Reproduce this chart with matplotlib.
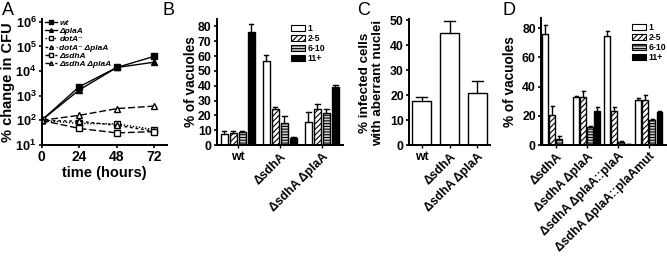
import numpy as np
import matplotlib
matplotlib.use("Agg")
import matplotlib.pyplot as plt
from matplotlib.patches import Patch

plt.rcParams['font.family'] = ['Liberation Sans', 'DejaVu Sans']
plt.rcParams['font.weight'] = 'bold'
plt.rcParams['mathtext.fontset'] = 'custom'
plt.rcParams['mathtext.bf'] = 'Liberation Sans:bold'
plt.rcParams['mathtext.rm'] = 'Liberation Sans:bold'
plt.rcParams['hatch.linewidth'] = 0.8

# ---------------- data ----------------
# Panel A
time_h = [0, 24, 48, 72]
a_labels = ['wt', '\u0394plaA', 'dotA\u207b', 'dotA\u207b \u0394plaA', '\u0394sdhA', '\u0394sdhA \u0394plaA']
a_wt = [100, 2300, 14000, 40000]
a_plaA = [100, 1700, 14000, 23000]
a_dotA = [100, 75, 72, 42]
a_dotA_plaA = [100, 92, 63, 36]
a_sdhA = [100, 47, 31, 35]
a_sdhA_plaA = [100, 160, 300, 380]

# Panel B
b_groups = ['wt', '\u0394sdhA', '\u0394sdhA \u0394plaA']
size_cats = ['1', '2-5', '6-10', '11+']
b_vals = [[7.4, 7.9, 8.8, 76.3],
          [57.0, 24.3, 14.6, 5.0],
          [15.8, 24.3, 21.4, 39.4]]
b_err = [[2.3, 1.8, 0.9, 5.4],
         [3.8, 1.6, 5.0, 0.6],
         [6.7, 3.2, 3.1, 0.9]]

# Panel C
c_groups = ['wt', '\u0394sdhA', '\u0394sdhA \u0394plaA']
c_vals = [17.6, 45.0, 20.9]
c_err = [1.5, 4.6, 4.6]

# Panel D
d_groups = ['\u0394sdhA', '\u0394sdhA \u0394plaA', '\u0394sdhA \u0394plaA::plaA', '\u0394sdhA \u0394plaA::plaAmut']
d_vals = [[76.0, 20.3, 4.0, 0.0],
          [33.0, 33.0, 12.0, 23.0],
          [75.0, 23.0, 2.0, 0.7],
          [31.0, 31.0, 16.8, 22.3]]
d_err = [[6.0, 6.7, 2.2, 0.0],
         [0.9, 4.0, 1.2, 2.8],
         [3.2, 3.2, 0.8, 0.3],
         [1.0, 3.3, 1.3, 1.0]]

# ---------------- figure ----------------
W, H = 667, 256
fig = plt.figure(figsize=(W / 100, H / 100), dpi=100)


def px_axes(left, right, top, bottom):
    return fig.add_axes([left / W, 1 - bottom / H, (right - left) / W, (bottom - top) / H])


def style(ax):
    for s in ['top', 'right']:
        ax.spines[s].set_visible(False)
    for s in ['left', 'bottom']:
        ax.spines[s].set_linewidth(1.4)
    ax.tick_params(axis='both', width=1.2, length=2.5, labelsize=8.8, pad=1.2)


# ---- Panel A ----
axA = px_axes(41.5, 167, 19, 145)
style(axA)
axA.set_yscale('log')
lw = 1.0
ms = 4.5
axA.plot(time_h, a_wt, '-', color='black', lw=lw, marker='s', ms=ms, mfc='black', label=a_labels[0])
axA.plot(time_h, a_plaA, '-', color='black', lw=lw, marker='^', ms=ms, mfc='black', label=a_labels[1])
axA.plot(time_h, a_dotA, color='black', lw=lw, ls=(0, (1, 1.2)), marker='s', ms=ms, mfc='white', label=a_labels[2])
axA.plot(time_h, a_dotA_plaA, color='black', lw=lw, ls=(0, (2, 2)), marker='^', ms=ms, mfc='white', label=a_labels[3])
axA.plot(time_h, a_sdhA, color='black', lw=lw, ls=(0, (5, 2)), marker='s', ms=ms, mfc='white', label=a_labels[4])
axA.plot(time_h, a_sdhA_plaA, color='black', lw=lw, ls=(0, (5, 2)), marker='^', ms=ms, mfc='white', label=a_labels[5])
axA.set_ylim(10, 1.3e6)
axA.set_xlim(0, 80)
axA.set_xticks(time_h)
axA.set_yticks([10, 100, 1e3, 1e4, 1e5, 1e6])
axA.set_yticklabels([r'$\mathbf{10^{%d}}$' % k for k in range(1, 7)])
axA.minorticks_off()
axA.tick_params(axis='y', labelsize=9.2, pad=1)
axA.tick_params(axis='x', labelsize=10)
axA.set_xlabel('time (hours)', fontsize=10.5, fontweight='bold', labelpad=1)
axA.set_ylabel('% change in CFU', fontsize=10.5, fontweight='bold')
axA.yaxis.set_label_coords(-0.215, 0.5)
axA.legend(loc='upper left', bbox_to_anchor=(-0.01, 1.04), frameon=False,
           prop={'size': 6, 'weight': 'bold', 'style': 'italic'},
           handlelength=1.4, handletextpad=0.3, labelspacing=0.05, borderpad=0.1,
           markerscale=0.6)

# bar styles
cat_face = ['white', 'white', '#d0d0d0', 'black']
cat_hatch = [None, '//////', '------', None]


def draw_bar(ax, x, h, w, k):
    if cat_hatch[k]:
        ax.bar(x, h, w, color=cat_face[k], edgecolor='black', hatch=cat_hatch[k], linewidth=0)
        ax.bar(x, h, w, color='none', edgecolor='black', linewidth=1.0)
    else:
        ax.bar(x, h, w, color=cat_face[k], edgecolor='black', linewidth=1.0)


def draw_err(ax, x, h, e, cap):
    if e <= 0:
        return
    ax.plot([x, x], [h, h + e], color='black', lw=1.0)
    ax.plot([x - cap / 2, x + cap / 2], [h + e, h + e], color='black', lw=1.0)


def bar_legend(ax, anchor):
    handles = []
    for k in range(4):
        handles.append(Patch(facecolor=cat_face[k], edgecolor='black',
                             hatch=cat_hatch[k], linewidth=0.8))
    ax.legend(handles, size_cats, loc='upper left', bbox_to_anchor=anchor, frameon=False,
              prop={'size': 6.2, 'weight': 'bold'}, handlelength=1.6, handleheight=0.75,
              handletextpad=0.3, labelspacing=0.12, borderpad=0.1)


def set_group_ticks(ax, labels):
    ax.set_xticks(range(len(labels)))
    ax.set_xticklabels(labels)
    for i, t in enumerate(ax.get_xticklabels()):
        if labels[i] == 'wt':
            t.set_rotation(0)
        else:
            t.set_rotation(45)
            t.set_ha('right')
            t.set_rotation_mode('anchor')
    ax.tick_params(axis='x', labelsize=8.8, length=2, width=1.0, pad=2)


# ---- Panel B ----
axB = px_axes(216.7, 343, 19, 145)
style(axB)
pitch_b = 0.214
w_b = 0.17
for g in range(len(b_groups)):
    for k in range(4):
        x = g + (k - 1.5) * pitch_b
        draw_bar(axB, x, b_vals[g][k], w_b, k)
        draw_err(axB, x, b_vals[g][k], b_err[g][k], w_b * 0.6)
axB.set_xlim(-0.5, 2.5)
axB.set_ylim(0, 85)
axB.set_yticks(range(0, 81, 10))
axB.set_ylabel('% of vacuoles', fontsize=9.8, fontweight='bold')
axB.yaxis.set_label_coords(-0.15, 0.5)
set_group_ticks(axB, b_groups)
bar_legend(axB, (0.55, 1.0))

# ---- Panel C ----
axC = px_axes(409, 490, 19, 145)
style(axC)
for g in range(len(c_groups)):
    axC.bar(g, c_vals[g], 0.67, color='white', edgecolor='black', linewidth=1.0)
    draw_err(axC, g, c_vals[g], c_err[g], 0.4)
axC.set_xlim(-0.45, 2.45)
axC.set_ylim(0, 50.5)
axC.set_yticks(range(0, 51, 10))
axC.set_ylabel('% infected cells\nwith aberrant nuclei', fontsize=9.6, fontweight='bold',
               linespacing=1.05)
axC.yaxis.set_label_coords(-0.31, 0.49)
set_group_ticks(axC, c_groups)

# ---- Panel D ----
axD = px_axes(541, 666, 18, 145)
style(axD)
pitch_d = 0.226
w_d = 0.19
for g in range(len(d_groups)):
    for k in range(4):
        x = g + (k - 1.5) * pitch_d
        if d_vals[g][k] > 0:
            draw_bar(axD, x, d_vals[g][k], w_d, k)
        draw_err(axD, x, d_vals[g][k], d_err[g][k], w_d * 0.6)
axD.set_xlim(-0.48, 3.55)
axD.set_ylim(0, 87)
axD.set_yticks(range(0, 81, 20))
axD.set_ylabel('% of vacuoles', fontsize=9.8, fontweight='bold')
axD.yaxis.set_label_coords(-0.19, 0.5)
set_group_ticks(axD, d_groups)
bar_legend(axD, (0.69, 1.0))

# panel letters
for letter, xp in [('A', 2), ('B', 163), ('C', 357), ('D', 503)]:
    fig.text(xp / W, 1 - 2 / H, letter, fontsize=13, fontweight='normal', va='top', ha='left')

fig.savefig('out.png', dpi=100)
